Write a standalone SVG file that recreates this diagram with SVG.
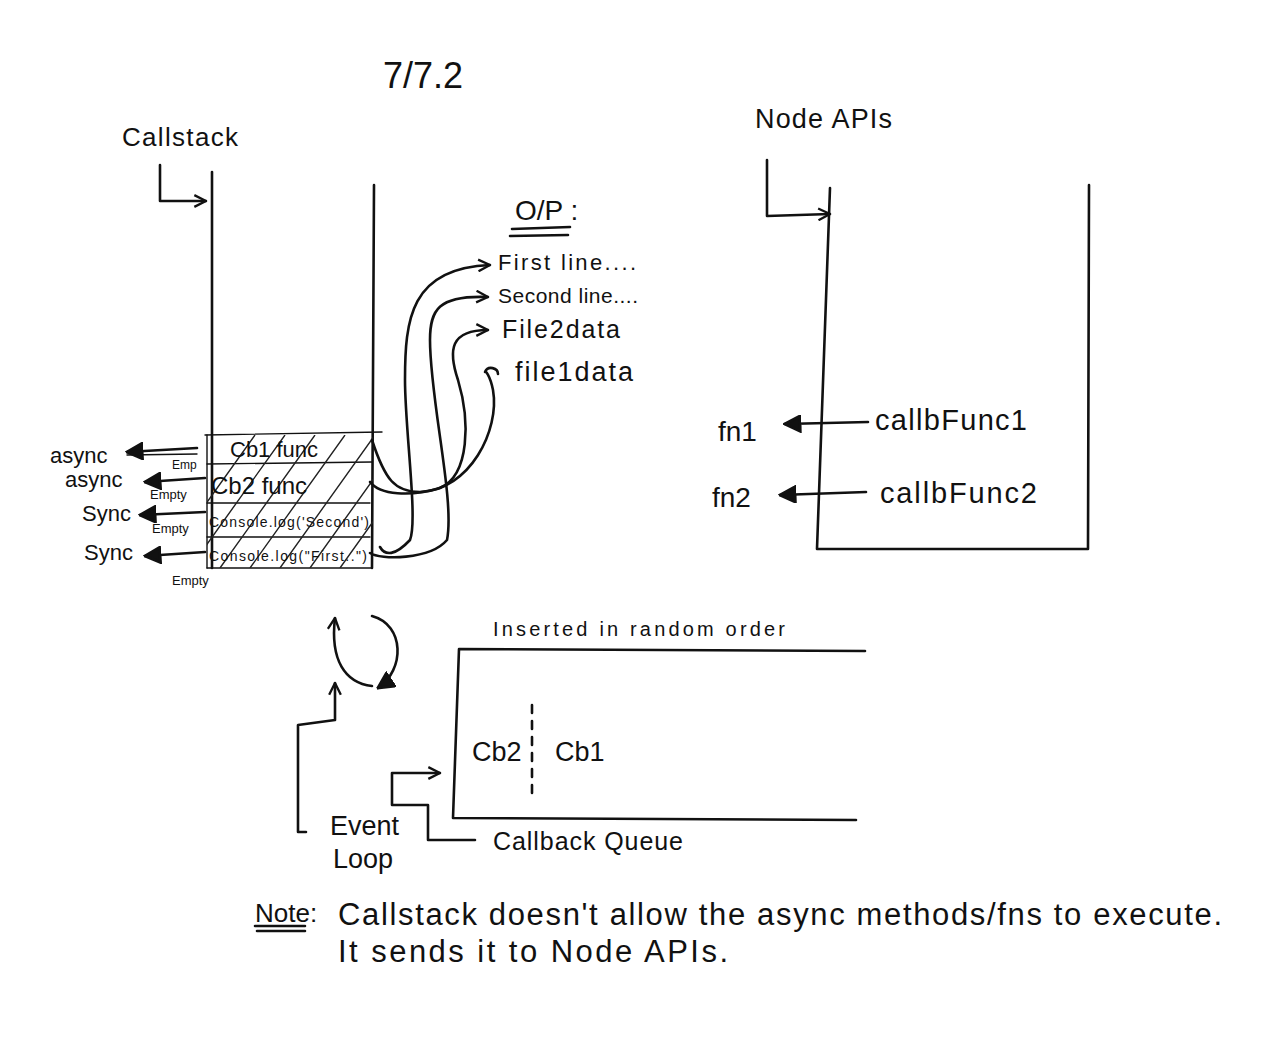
<svg xmlns="http://www.w3.org/2000/svg" width="1280" height="1049" viewBox="0 0 1280 1049">
<style>
.l{fill:none;stroke:#111;stroke-width:2.6;stroke-linecap:round;stroke-linejoin:round}
.t{stroke-width:1.4}
.h{fill:none;stroke:#222;stroke-width:1.4}
text{font-family:"Liberation Sans","DejaVu Sans",sans-serif;fill:#111}
</style>
<defs>
<marker id="ar" viewBox="0 0 12 12" refX="11" refY="6" markerWidth="14" markerHeight="14" markerUnits="userSpaceOnUse" orient="auto">
<path d="M1,1 L11,6 L1,11" fill="none" stroke="#111" stroke-width="2"/>
</marker>
<marker id="arb" viewBox="0 0 12 12" refX="11" refY="6" markerWidth="18" markerHeight="18" markerUnits="userSpaceOnUse" orient="auto">
<path d="M1,1 L11,6 L1,11 Z" fill="#111" stroke="#111" stroke-width="2"/>
</marker>
<clipPath id="stk"><rect x="207" y="435" width="166" height="133"/></clipPath>
</defs>
<rect width="1280" height="1049" fill="#fff"/>

<g id="title"><text x="383" y="88" font-size="36">7/7.2</text></g>

<g id="callstack">
<text x="122" y="146" font-size="26" textLength="116">Callstack</text>
<path class="l" d="M212 172 L212 568"/>
<path class="l" d="M374 185 L372 568"/>
<path class="l t" d="M205 435 L382 432 M207 464 L372 462 M207 503 L370 503 M207 537 L370 537 M207 568 L372 568"/>
<path class="l t" d="M207 435 L207 568"/>
<g clip-path="url(#stk)" class="h">
<path d="M190 568 L285 435 M220 568 L315 435 M250 568 L345 435 M280 568 L375 435 M310 568 L405 435 M340 568 L435 435 M160 568 L255 435"/>
</g>
<text x="230" y="457" font-size="22">Cb1 func</text>
<text x="211" y="494" font-size="24">Cb2 func</text>
<text x="209" y="527" font-size="14" textLength="160">Console.log('Second')</text>
<text x="209" y="561" font-size="14" textLength="158">Console.log("First..")</text>
<text x="50" y="463" font-size="22">async</text>
<text x="65" y="487" font-size="22">async</text>
<text x="82" y="521" font-size="22">Sync</text>
<text x="84" y="560" font-size="22">Sync</text>
<text x="172" y="469" font-size="12">Emp</text>
<text x="150" y="499" font-size="13">Empty</text>
<text x="152" y="533" font-size="13">Empty</text>
<text x="172" y="585" font-size="13">Empty</text>
</g>

<g id="output">
<text x="515" y="220" font-size="28">O/P :</text>
<path class="l" d="M512 229 L570 227 M510 236 L568 235"/>
<text x="498" y="270" font-size="22" textLength="138">First line....</text>
<text x="498" y="303" font-size="21" textLength="140">Second line....</text>
<text x="502" y="338" font-size="25" textLength="118">File2data</text>
<text x="515" y="381" font-size="27" textLength="118">file1data</text>
</g>

<g id="node-apis">
<text x="755" y="128" font-size="27" textLength="137">Node APIs</text>
<path class="l" d="M830 188 L817 549 L1088 549 L1089 185"/>
<text x="718" y="441" font-size="28">fn1</text>
<text x="875" y="430" font-size="29" textLength="152">callbFunc1</text>
<text x="712" y="507" font-size="28">fn2</text>
<text x="880" y="503" font-size="29" textLength="157">callbFunc2</text>
</g>

<g id="callback-queue">
<text x="493" y="636" font-size="20" textLength="292">Inserted in random order</text>
<path class="l" d="M865 651 L459 649 L453 818 L856 820"/>
<path class="l" d="M532 705 L532 795" stroke-dasharray="8 8"/>
<text x="472" y="761" font-size="27">Cb2</text>
<text x="555" y="761" font-size="27">Cb1</text>
<text x="493" y="850" font-size="25" textLength="190">Callback Queue</text>
</g>

<g id="event-loop">
<text x="330" y="835" font-size="27">Event</text>
<text x="333" y="868" font-size="27">Loop</text>
<path class="l" d="M372 686 C345 683 330 660 335 618" marker-end="url(#ar)"/>
<path class="l" d="M372 616 C405 625 405 670 378 688" marker-end="url(#arb)"/>
</g>

<g id="note">
<text x="255" y="922" font-size="26">Note:</text>
<path class="l" d="M255 926 L305 926 M257 931 L305 931"/>
<text x="338" y="925" font-size="31" textLength="884">Callstack doesn't allow the async methods/fns to execute.</text>
<text x="338" y="962" font-size="31" textLength="390">It sends it to Node APIs.</text>
</g>

<g id="connectors">
<path class="l" d="M160 165 L160 201 L206 201" marker-end="url(#ar)"/>
<path class="l" d="M767 160 L767 216 L830 214" marker-end="url(#ar)"/>
<path class="l" d="M868 422 L785 424" marker-end="url(#arb)"/>
<path class="l" d="M866 492 L780 495" marker-end="url(#arb)"/>
<path class="l t" d="M197 454 L127 455"/>
<path class="l" d="M197 448 L127 452" marker-end="url(#arb)"/>
<path class="l" d="M205 478 L145 482" marker-end="url(#arb)"/>
<path class="l" d="M205 512 L140 515" marker-end="url(#arb)"/>
<path class="l" d="M205 552 L145 556" marker-end="url(#arb)"/>
<path class="l" d="M372 440 C385 480 395 492 420 492 C470 490 500 430 493 390 C490 375 485 370 485 372 C488 365 498 368 498 374" />
<path class="l" d="M370 482 C380 495 410 497 440 488 C470 475 470 420 458 380 C448 350 450 330 488 330" marker-end="url(#ar)"/>
<path class="l" d="M380 547 C385 556 395 556 410 540 C418 520 405 430 405 380 C405 320 410 268 490 265" marker-end="url(#ar)"/>
<path class="l" d="M370 553 C380 560 430 560 447 540 C455 500 430 400 430 340 C430 310 438 295 488 297" marker-end="url(#ar)"/>
<path class="l" d="M298 832 L306 832 M298 832 L298 725 L335 720 L335 683" marker-end="url(#ar)"/>
<path class="l" d="M475 840 L428 840 L428 805 L392 805 L392 773 L440 773" marker-end="url(#ar)"/>
</g>
</svg>
